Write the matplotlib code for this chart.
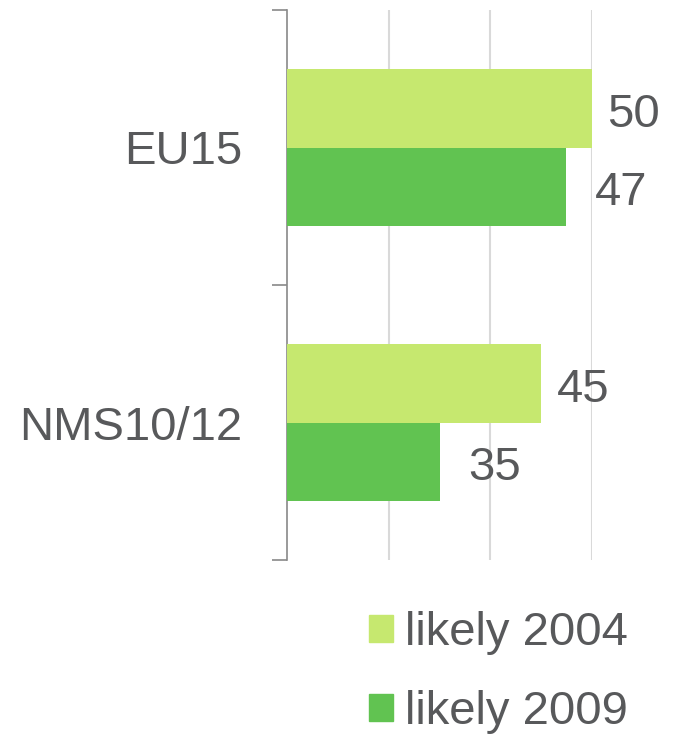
import matplotlib
matplotlib.use("Agg")
import matplotlib.pyplot as plt
from matplotlib.patches import Patch
import numpy as np

categories = ["NMS10/12", "EU15"]
series_names = ["likely 2004", "likely 2009"]
likely_2004 = [45, 50]
likely_2009 = [35, 47.4]
value_labels_2004 = ["45", "50"]
value_labels_2009 = ["35", "47"]

light = "#C6E86F"
dark = "#61C351"
text_color = "#58595B"

plt.rcParams["font.family"] = ["Liberation Sans", "DejaVu Sans"]

fig = plt.figure(figsize=(6.92, 7.37), dpi=100)
ax = fig.add_axes([287/692, 1-560/737, (592-287)/692, 550/737])

y = np.arange(len(categories))
h = 0.284
ax.barh(y + h/2, likely_2004, height=h, color=light, zorder=3)
ax.barh(y - h/2, likely_2009, height=h, color=dark, zorder=3)

for yi, v, lab in zip(y, likely_2004, value_labels_2004):
    ax.annotate(lab, (v, yi + h/2), xytext=(11, -13), textcoords="offset points",
                va="baseline", ha="left", fontsize=34, color=text_color)
for yi, v, lab in zip(y, likely_2009, value_labels_2009):
    ax.annotate(lab, (v, yi - h/2), xytext=(21, -13), textcoords="offset points",
                va="baseline", ha="left", fontsize=34, color=text_color)

ax.set_xlim(20, 50)
ax.set_ylim(-0.5, 1.5)
ax.set_xticks([30, 40, 50])
ax.tick_params(axis="x", length=0, labelbottom=False)
ax.grid(axis="x", color="#D9D9D9", linewidth=1.5, zorder=0)

ax.set_yticks(y)
ax.set_yticklabels(categories, fontsize=34, color=text_color)
ax.tick_params(axis="y", which="major", length=0, pad=32)
ax.set_yticks([-0.5, 0.5, 1.5], minor=True)
ax.tick_params(axis="y", which="minor", length=11, width=1.2, color="#898989")

for s in ["top", "right", "bottom"]:
    ax.spines[s].set_visible(False)
ax.spines["left"].set_color("#898989")
ax.spines["left"].set_linewidth(1.2)

handles = [Patch(color=light), Patch(color=dark)]
leg = fig.legend(handles, series_names, loc="upper left",
                 bbox_to_anchor=(369/692, 1-611/737), frameon=False,
                 fontsize=34, handlelength=0.51, handleheight=0.51,
                 handletextpad=0.25, labelspacing=0.74, borderpad=0,
                 borderaxespad=0)
for t in leg.get_texts():
    t.set_color(text_color)

fig.savefig("out.png", dpi=100)
